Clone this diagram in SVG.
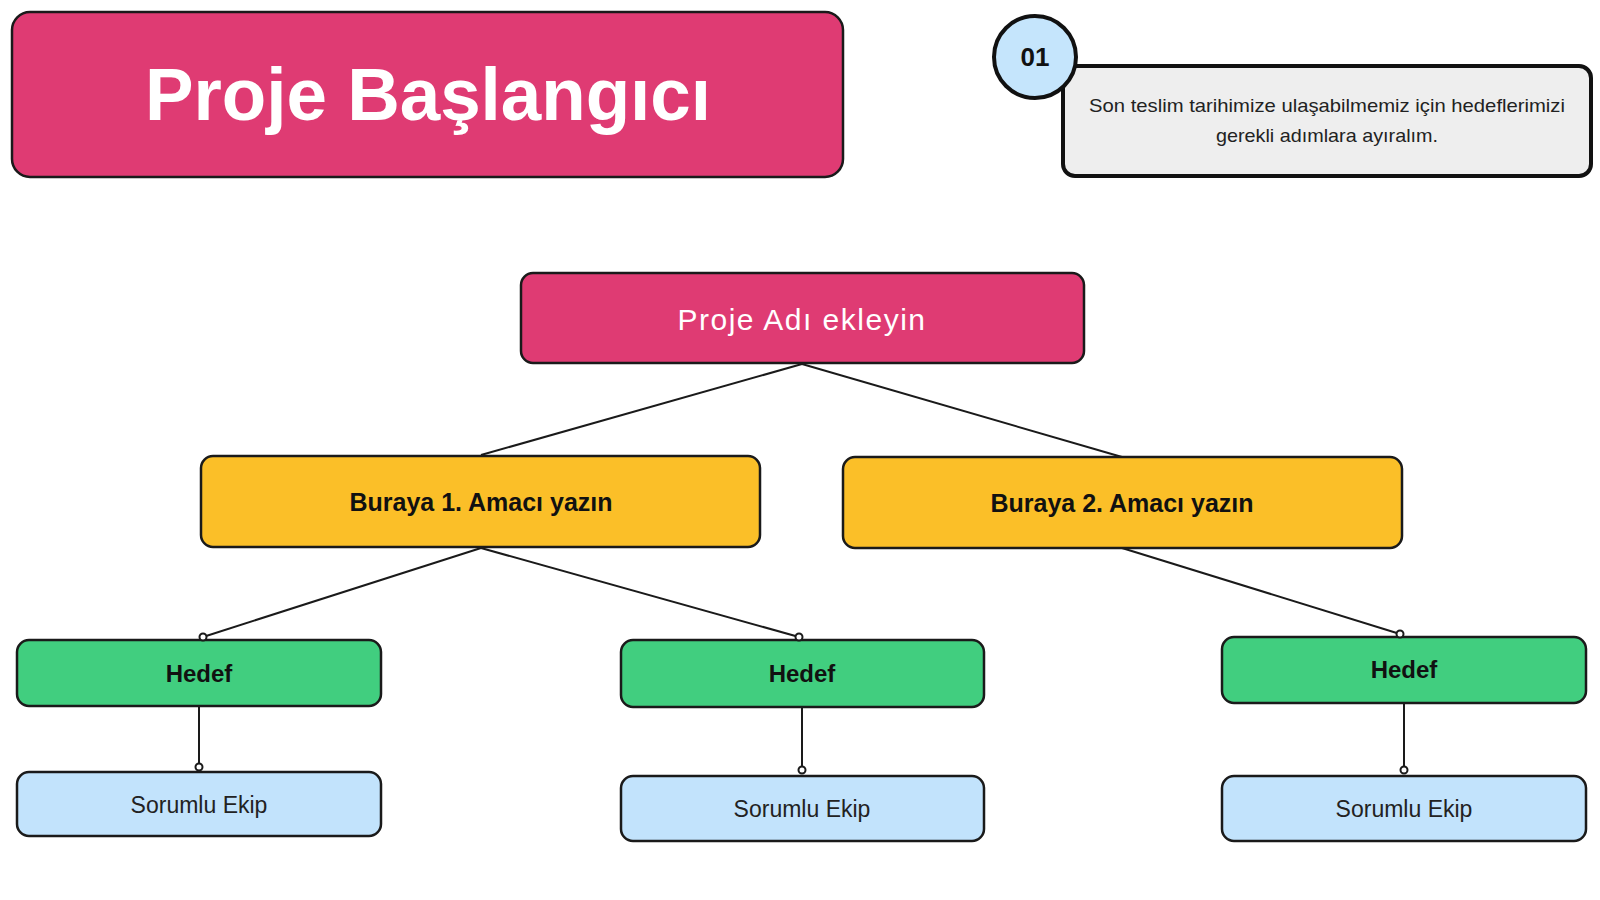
<svg xmlns="http://www.w3.org/2000/svg" width="1600" height="900" viewBox="0 0 1600 900">
<style>
.box{stroke:#1a1a1a;stroke-width:2.5}
.pink{fill:#DF3B73}
.yellow{fill:#FBBF28}
.green{fill:#41CE7F}
.blue{fill:#C2E3FC}
.t{font-family:"Liberation Sans",Arial,sans-serif;text-anchor:middle}
.b{font-weight:bold}
.conn line{stroke:#1a1a1a;stroke-width:2}
.dot{fill:#fff;stroke:#1a1a1a;stroke-width:2}
</style>
<rect width="1600" height="900" fill="#fff"/>

<g id="title">
<rect class="box pink" x="12" y="12" width="831" height="165" rx="18"/>
<text class="t b" x="428" y="120" font-size="74" fill="#fff" textLength="566" lengthAdjust="spacingAndGlyphs">Proje Başlangıcı</text>
</g>

<g id="note">
<rect x="1063" y="66" width="528" height="110" rx="12" fill="#EEEEEE" stroke="#111" stroke-width="4"/>
<text class="t" x="1327" y="112" font-size="19" fill="#222" textLength="476" lengthAdjust="spacingAndGlyphs">Son teslim tarihimize ulaşabilmemiz için hedeflerimizi</text>
<text class="t" x="1327" y="142" font-size="19" fill="#222" textLength="222" lengthAdjust="spacingAndGlyphs">gerekli adımlara ayıralım.</text>
</g>

<g id="step01">
<circle cx="1035" cy="57" r="41" fill="#C5E5FC" stroke="#111" stroke-width="4"/>
<text class="t b" x="1035" y="66" font-size="26" fill="#111">01</text>
</g>

<g class="conn" id="connectors">
<line x1="802" y1="364" x2="481" y2="455"/>
<line x1="802" y1="364" x2="1122" y2="457"/>
<line x1="481" y1="548" x2="203" y2="637"/>
<line x1="481" y1="548" x2="799" y2="637"/>
<line x1="1122" y1="548" x2="1400" y2="634"/>
<line x1="199" y1="706" x2="199" y2="767"/>
<line x1="802" y1="707" x2="802" y2="770"/>
<line x1="1404" y1="703" x2="1404" y2="770"/>
</g>

<g id="project">
<rect class="box pink" x="521" y="273" width="563" height="90" rx="12"/>
<text class="t" x="802" y="330" font-size="30" fill="#fff" letter-spacing="1.5">Proje Adı ekleyin</text>
</g>

<g id="goal1">
<rect class="box yellow" x="201" y="456" width="559" height="91" rx="12"/>
<text class="t b" x="481" y="511" font-size="25" fill="#111">Buraya 1. Amacı yazın</text>
</g>

<g id="goal2">
<rect class="box yellow" x="843" y="457" width="559" height="91" rx="12"/>
<text class="t b" x="1122" y="512" font-size="25" fill="#111">Buraya 2. Amacı yazın</text>
</g>

<g id="hedef1">
<rect class="box green" x="17" y="640" width="364" height="66" rx="12"/>
<text class="t b" x="199" y="682" font-size="24" fill="#111">Hedef</text>
</g>
<g id="hedef2">
<rect class="box green" x="621" y="640" width="363" height="67" rx="12"/>
<text class="t b" x="802" y="682" font-size="24" fill="#111">Hedef</text>
</g>
<g id="hedef3">
<rect class="box green" x="1222" y="637" width="364" height="66" rx="12"/>
<text class="t b" x="1404" y="678" font-size="24" fill="#111">Hedef</text>
</g>

<g id="ekip1">
<rect class="box blue" x="17" y="772" width="364" height="64" rx="12"/>
<text class="t" x="199" y="813" font-size="23" fill="#222">Sorumlu Ekip</text>
</g>
<g id="ekip2">
<rect class="box blue" x="621" y="776" width="363" height="65" rx="12"/>
<text class="t" x="802" y="817" font-size="23" fill="#222">Sorumlu Ekip</text>
</g>
<g id="ekip3">
<rect class="box blue" x="1222" y="776" width="364" height="65" rx="12"/>
<text class="t" x="1404" y="817" font-size="23" fill="#222">Sorumlu Ekip</text>
</g>

<g id="dots">
<circle class="dot" cx="203" cy="637" r="3.5"/>
<circle class="dot" cx="799" cy="637" r="3.5"/>
<circle class="dot" cx="1400" cy="634" r="3.5"/>
<circle class="dot" cx="199" cy="767" r="3.5"/>
<circle class="dot" cx="802" cy="770" r="3.5"/>
<circle class="dot" cx="1404" cy="770" r="3.5"/>
</g>
</svg>
